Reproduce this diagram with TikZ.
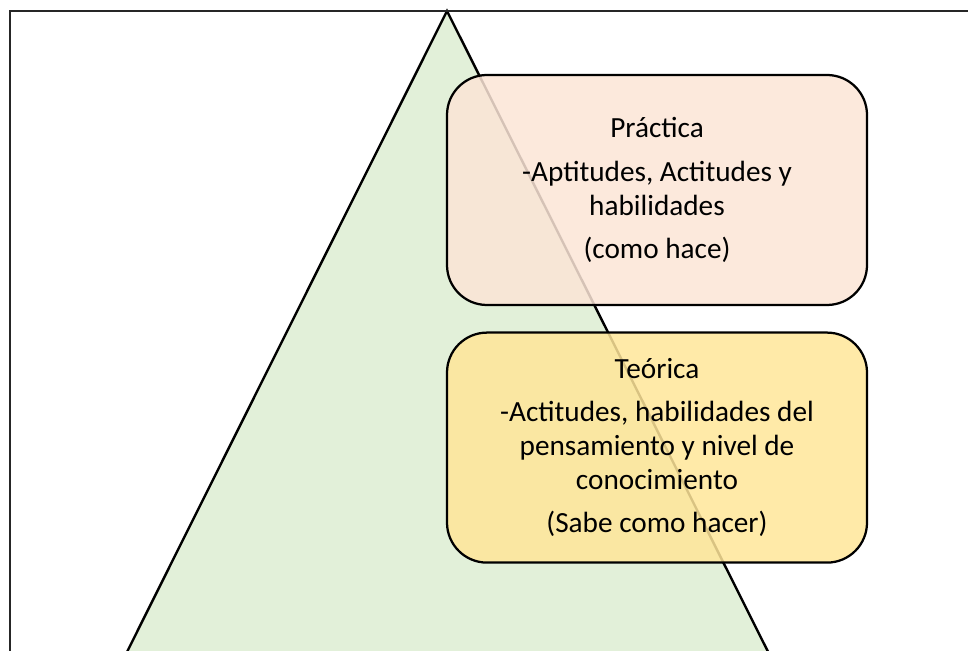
\documentclass[tikz,border=0pt]{standalone}
\usepackage{fontspec}
\setmainfont{Carlito}
\usetikzlibrary{calc}

\definecolor{verdeclaro}{HTML}{E2F0D9}
\definecolor{durazno}{HTML}{FBE5D6}
\definecolor{amarillo}{HTML}{FFE699}

\tikzset{caja/.style={draw,line width=1.6pt,rounded corners=1cm,minimum width=10.5cm,minimum height=5.75cm,fill opacity=0.85,text opacity=1,align=center,font=\fontsize{20.8}{24.2}\selectfont}}

\begin{document}
\begin{tikzpicture}
	\useasboundingbox (0,0) rectangle (24.2,16.25);
	\clip (0,0) rectangle (24.2,16.25);
	\draw[line width=1.7pt,fill=verdeclaro] (11.175,15.975) -- (2.7,-1) -- (19.68,-1) -- cycle;
	\draw[line width=0.9pt,black!85] (0.25,-1) -- (0.25,15.975) -- (25,15.975);
	\node[caja,fill=durazno] (practica) at (16.425,11.5) {Práctica\\[6.5pt]-Aptitudes, Actitudes y\\habilidades\\[6.5pt](como hace)};
	\node[caja,fill=amarillo] (teorica) at (16.425,5.06) {Teórica\\[6.5pt]-Actitudes, habilidades del\\pensamiento y nivel de\\conocimiento\\[6.5pt](Sabe como hacer)};
\end{tikzpicture}
\end{document}
